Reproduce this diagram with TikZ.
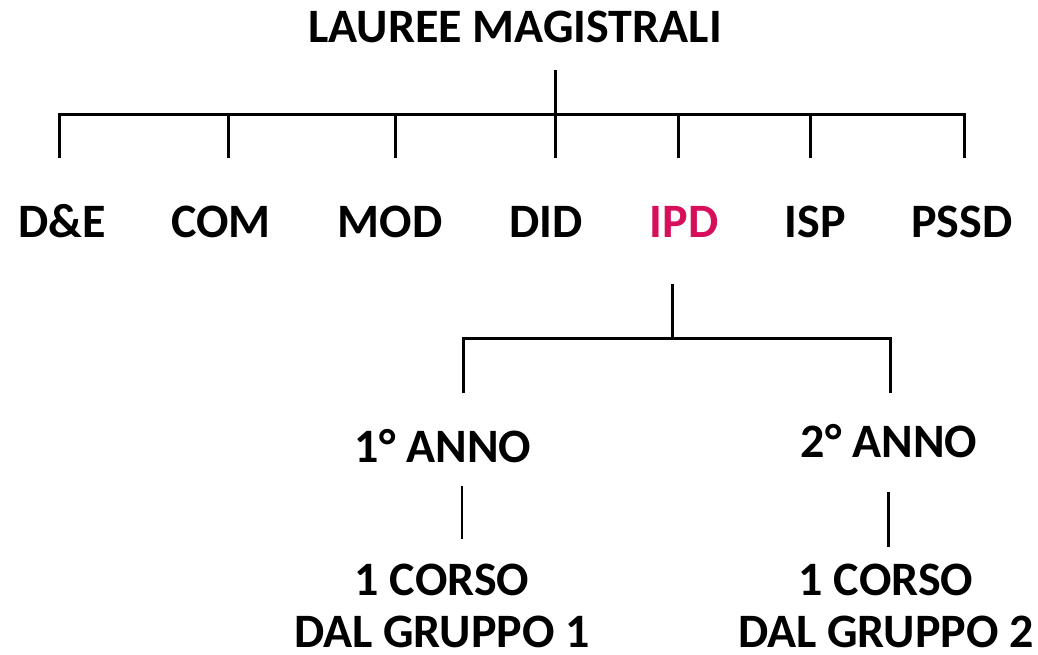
\documentclass[tikz,border=0pt]{standalone}
\usepackage{fontspec}
\setmainfont{Carlito}
\usepackage{xcolor}
\definecolor{ipdred}{RGB}{215,15,90}

\begin{document}
\begin{tikzpicture}[x=1pt, y=-1pt,
    lbl/.style={font=\bfseries\fontsize{48}{52}\selectfont, inner sep=0pt, anchor=base},
    branch/.style={line width=3pt},
    twig/.style={line width=2.5pt}]
    \useasboundingbox (0,0) rectangle (1038,654);

    \node[lbl] (lm) at (515,42) {LAUREE MAGISTRALI};

    \node[lbl] (de)   at (62,237)  {D\&E};
    \node[lbl] (com)  at (221,237) {COM};
    \node[lbl] (mod)  at (390,237) {MOD};
    \node[lbl] (did)  at (546,237) {DID};
    \node[lbl, text=ipdred] (ipd) at (684,237) {IPD};
    \node[lbl] (isp)  at (815,237) {ISP};
    \node[lbl] (pssd) at (962,237) {PSSD};

    \coordinate (root) at (555,70);
    \coordinate (hub)  at (555,114);
    \foreach \x/\n in {59/de, 228/com, 395/mod, 555/did, 678/ipd, 810/isp, 964/pssd} {
        \coordinate (\n-a) at (\x,114);
        \coordinate (\n-b) at (\x,158);
    }
    \draw[branch] (root) -- (hub);
    \draw[branch] (de-b) -- (de-a) -- (pssd-a) -- (pssd-b);
    \foreach \n in {com, mod, did, ipd, isp}
        \draw[branch] (\n-a) -- (\n-b);

    % IPD
    \node[lbl] (anno1) at (443,462) {1° ANNO};
    \node[lbl] (anno2) at (889,457) {2° ANNO};
    \node[lbl, align=center] (corso1) at (442,647) {1 CORSO\\DAL GRUPPO 1};
    \node[lbl, align=center] (corso2) at (886,647) {1 CORSO\\DAL GRUPPO 2};

    \coordinate (ipd-root) at (672,284);
    \coordinate (ipd-hub)  at (672,338);
    \coordinate (anno1-a) at (463,338);
    \coordinate (anno1-b) at (463,393);
    \coordinate (anno2-a) at (890,338);
    \coordinate (anno2-b) at (890,393);
    \draw[branch] (ipd-root) -- (ipd-hub);
    \draw[branch] (anno1-b) -- (anno1-a) -- (anno2-a) -- (anno2-b);

    \coordinate (corso1-a) at (462,486);
    \coordinate (corso1-b) at (462,539);
    \coordinate (corso2-a) at (888,492);
    \coordinate (corso2-b) at (888,547);
    \draw[twig] (corso1-a) -- (corso1-b);
    \draw[branch] (corso2-a) -- (corso2-b);
\end{tikzpicture}
\end{document}
